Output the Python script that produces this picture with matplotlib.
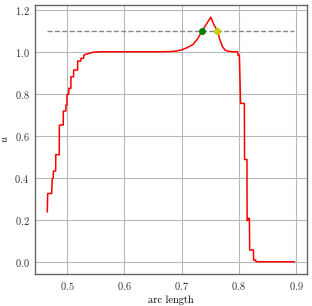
import matplotlib
matplotlib.use("Agg")
import matplotlib.pyplot as plt

plt.rcParams['font.family'] = 'serif'
plt.rcParams['font.serif'] = ['cmr10', 'DejaVu Serif']
plt.rcParams['mathtext.fontset'] = 'cm'
plt.rcParams['axes.formatter.use_mathtext'] = True
plt.rcParams['axes.unicode_minus'] = False

# arc length positions and solution values
arc = [0.4654, 0.4661, 0.4730, 0.4741, 0.4758, 0.4760, 0.4800, 0.4802, 0.4863, 0.4865,
       0.4932, 0.4934, 0.4979, 0.4981, 0.4997, 0.4999, 0.5028, 0.5030, 0.5066, 0.5068,
       0.5113, 0.5115, 0.5183, 0.5185, 0.5240, 0.5242, 0.5289, 0.5291, 0.5353, 0.5457,
       0.5580, 0.6000, 0.6600, 0.6800, 0.6900, 0.7000, 0.7100, 0.7200, 0.7289, 0.7358,
       0.7435, 0.7510, 0.7562, 0.7626, 0.7666, 0.7713, 0.7760, 0.7820, 0.7900, 0.7979,
       0.7985, 0.8009, 0.8015, 0.8030, 0.8097, 0.8100, 0.8142, 0.8145, 0.8160, 0.8165,
       0.8185, 0.8190, 0.8256, 0.8258, 0.8296, 0.8300, 0.8970]
u = [0.238, 0.325, 0.325, 0.396, 0.400, 0.432, 0.432, 0.510, 0.510, 0.651,
     0.651, 0.718, 0.718, 0.746, 0.746, 0.797, 0.797, 0.826, 0.826, 0.881,
     0.881, 0.913, 0.913, 0.956, 0.956, 0.969, 0.969, 0.984, 0.990, 0.998,
     1.000, 1.000, 1.000, 1.001, 1.003, 1.009, 1.020, 1.035, 1.065, 1.100,
     1.132, 1.165, 1.130, 1.100, 1.060, 1.025, 1.008, 1.002, 1.000, 1.000,
     0.984, 0.984, 0.930, 0.754, 0.754, 0.487, 0.487, 0.196, 0.198, 0.207,
     0.207, 0.056, 0.056, 0.008, 0.008, 0.000, 0.000]

level = 1.1
x_left_cross = 0.7358
x_right_cross = 0.7626

x_ticks = [0.5, 0.6, 0.7, 0.8, 0.9]
y_ticks = [0.0, 0.2, 0.4, 0.6, 0.8, 1.0, 1.2]

fig = plt.figure(figsize=(3.12, 3.06), dpi=100)
ax = fig.add_axes([0.112, 0.1046, 0.871, 0.8794])

ax.grid(True, color='#b8b8b8', linewidth=0.8)
ax.set_axisbelow(True)

ax.plot(arc, u, color='red', linewidth=1.1, zorder=3)
ax.hlines(level, min(arc), max(arc), colors='#888888', linestyles='--', linewidth=1.0, zorder=2)
ax.plot([x_left_cross], [level], 'o', color='green', markersize=4, zorder=4)
ax.plot([x_right_cross], [level], 'o', color='#cccc00', markersize=4, zorder=4)

ax.set_xticks(x_ticks)
ax.set_yticks(y_ticks)
ax.tick_params(length=0, labelsize=7.5, pad=4, colors='#333333')
for s in ax.spines.values():
    s.set_color('#666666')
    s.set_linewidth(1.0)

ax.set_xlabel('arc length', fontsize=7.5, labelpad=3)
ax.set_ylabel('$u$', fontsize=7.5, labelpad=3)

fig.savefig('out.png', dpi=100)
